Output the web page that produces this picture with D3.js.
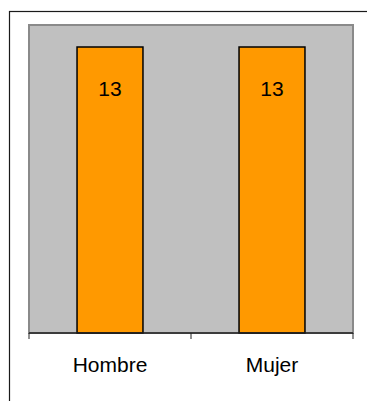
<!DOCTYPE html>
<html><head><meta charset="utf-8">
<script src="https://cdn.jsdelivr.net/npm/d3@7"></script>
<style>body{margin:0;background:#fff}svg{display:block}</style>
</head><body>
<script>
const categories = ["Hombre", "Mujer"];
const values = [13, 13];
const yMax = 14;

const W = 367, H = 401;
const svg = d3.select("body").append("svg").attr("width", W).attr("height", H);
svg.append("rect").attr("width", W).attr("height", H).attr("fill", "#fff");
// outer chart border
svg.append("rect").attr("x", 9.5).attr("y", 11.5).attr("width", 380).attr("height", 420)
  .attr("fill", "none").attr("stroke", "#1a1a1a").attr("stroke-width", 1.2);

const pL = 29, pR = 353, pT = 25, pB = 333;
const x = d3.scaleBand().domain(categories).range([pL, pR]).paddingInner(0.593).paddingOuter(0.2965);
const y = d3.scaleLinear().domain([0, yMax]).range([pB, pT]);

svg.append("rect").attr("x", pL).attr("y", pT).attr("width", pR - pL).attr("height", pB - pT)
  .attr("fill", "#c0c0c0").attr("stroke", "#8a8a8a").attr("stroke-width", 2);

svg.selectAll("rect.bar").data(values).join("rect").attr("class", "bar")
  .attr("x", (d, i) => x(categories[i]))
  .attr("y", d => y(d))
  .attr("width", x.bandwidth())
  .attr("height", d => y(0) - y(d))
  .attr("fill", "#ff9900").attr("stroke", "#000").attr("stroke-width", 1.5);

svg.selectAll("text.val").data(values).join("text").attr("class", "val")
  .attr("x", (d, i) => x(categories[i]) + x.bandwidth() / 2)
  .attr("y", d => y(d) + 48.5)
  .attr("text-anchor", "middle")
  .attr("font-family", "Liberation Sans, Arial, sans-serif").attr("font-size", 21)
  .attr("fill", "#000").text(d => d);

// x axis
const xa = d3.scaleBand().domain(categories).range([pL, pR]);
const g = svg.append("g").attr("transform", `translate(0,${pB})`);
g.append("line").attr("x1", pL).attr("x2", pR).attr("stroke", "#222").attr("stroke-width", 1.5);
const ticks = [pL, ...categories.map(c => xa(c) + xa.bandwidth())];
g.selectAll("line.tick").data(ticks).join("line").attr("class", "tick")
  .attr("x1", d => d).attr("x2", d => d).attr("y1", 0).attr("y2", 6)
  .attr("stroke", "#222").attr("stroke-width", 1);
g.selectAll("text").data(categories).join("text")
  .attr("x", d => xa(d) + xa.bandwidth() / 2).attr("y", 39)
  .attr("text-anchor", "middle")
  .attr("font-family", "Liberation Sans, Arial, sans-serif").attr("font-size", 21)
  .attr("fill", "#000").text(d => d);
</script>
</body></html>
